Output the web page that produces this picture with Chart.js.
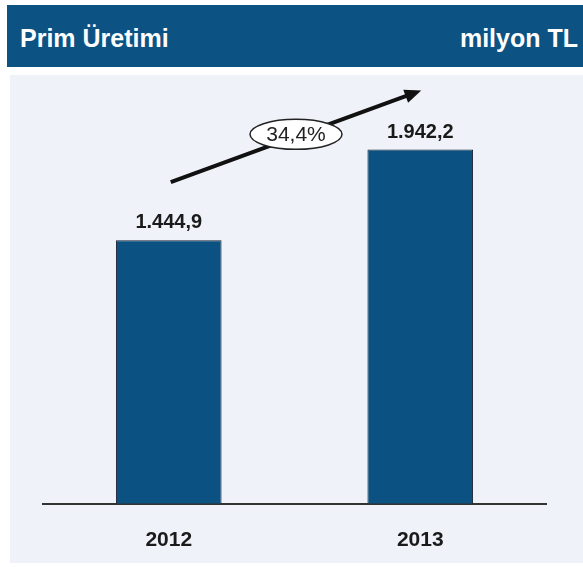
<!DOCTYPE html>
<html>
<head>
<meta charset="utf-8">
<script src="https://cdn.jsdelivr.net/npm/chart.js@4"></script>
<style>
  html, body { margin: 0; padding: 0; background: #fff; }
  #wrap { position: relative; width: 583px; height: 567px; overflow: hidden; }
  #head { position: absolute; left: 7px; top: 5px; width: 576px; height: 62px; background: #0c5384;
    color: #fff; font: bold 25px "Liberation Sans", Arial, sans-serif; }
  #head .l { position: absolute; left: 13px; top: 19px; }
  #head .r { position: absolute; right: 5px; top: 19px; }
  #panel { position: absolute; left: 10px; top: 75px; width: 573px; height: 488px; background: #eff2f8; }
  #chart { position: absolute; left: 0; top: 0; }
</style>
</head>
<body>
<div id="wrap">
  <div id="head"><span class="l">Prim Üretimi</span><span class="r">milyon TL</span></div>
  <div id="panel"></div>
  <canvas id="chart" width="583" height="567"></canvas>
</div>
<script>
const years = ['2012', '2013'];
const primValues = [1444.9, 1942.2];
const growthLabel = '34,4%';

function trFormat(v) {
  const parts = v.toFixed(1).split('.');
  const intPart = parts[0].replace(/\B(?=(\d{3})+(?!\d))/g, '.');
  return intPart + ',' + parts[1];
}

// value labels above bars + growth arrow between them
const barExtras = {
  id: 'barExtras',
  afterDatasetsDraw(chart) {
    const ctx = chart.ctx;
    const bars = chart.getDatasetMeta(0).data;
    ctx.save();
    ctx.fillStyle = '#1a1a1a';
    ctx.font = 'bold 20px "Liberation Sans", Arial, sans-serif';
    ctx.textAlign = 'center';
    ctx.textBaseline = 'alphabetic';
    bars.forEach((b, i) => ctx.fillText(trFormat(primValues[i]), b.x, b.y - 12));

    // arrow
    const x1 = bars[0].x + 2, y1 = bars[0].y - 58;
    const x2 = bars[1].x + 1, y2 = bars[1].y - 59;
    const ang = Math.atan2(y2 - y1, x2 - x1);
    const headLen = 18;
    ctx.strokeStyle = '#111';
    ctx.lineWidth = 4;
    ctx.beginPath();
    ctx.moveTo(x1, y1);
    ctx.lineTo(x2 - headLen * 0.8 * Math.cos(ang), y2 - headLen * 0.8 * Math.sin(ang));
    ctx.stroke();
    ctx.fillStyle = '#111';
    ctx.beginPath();
    ctx.moveTo(x2, y2);
    ctx.lineTo(x2 - headLen * Math.cos(ang - 0.4), y2 - headLen * Math.sin(ang - 0.4));
    ctx.lineTo(x2 - headLen * Math.cos(ang + 0.4), y2 - headLen * Math.sin(ang + 0.4));
    ctx.closePath();
    ctx.fill();

    // ellipse with growth
    const cx = (x1 + x2) / 2, cy = (y1 + y2) / 2 - 2;
    ctx.beginPath();
    ctx.ellipse(cx, cy, 46, 15, 0, 0, Math.PI * 2);
    ctx.fillStyle = '#fff';
    ctx.fill();
    ctx.lineWidth = 1.5;
    ctx.strokeStyle = '#222';
    ctx.stroke();
    ctx.fillStyle = '#222';
    ctx.font = '21px "Liberation Sans", Arial, sans-serif';
    ctx.textBaseline = 'middle';
    ctx.fillText(growthLabel, cx, cy + 1);
    ctx.restore();
  }
};

new Chart(document.getElementById('chart').getContext('2d'), {
  type: 'bar',
  data: {
    labels: years,
    datasets: [{
      data: primValues,
      backgroundColor: '#0b5283',
      borderColor: '#1b2330',
      borderWidth: 1,
      barPercentage: 0.42,
      categoryPercentage: 1
    }]
  },
  options: {
    responsive: false,
    animation: false,
    layout: { padding: { left: 43, right: 37, top: 66, bottom: -10 } },
    plugins: { legend: { display: false }, tooltip: { enabled: false } },
    scales: {
      x: {
        grid: { display: false, drawTicks: false },
        border: { display: true, color: '#333', width: 2 },
        ticks: { color: '#1a1a1a', padding: 24, font: { family: '"Liberation Sans", Arial, sans-serif', size: 21, weight: 'bold' } }
      },
      y: { display: false, min: 0, max: 2400 }
    }
  },
  plugins: [barExtras]
});
</script>
</body>
</html>
